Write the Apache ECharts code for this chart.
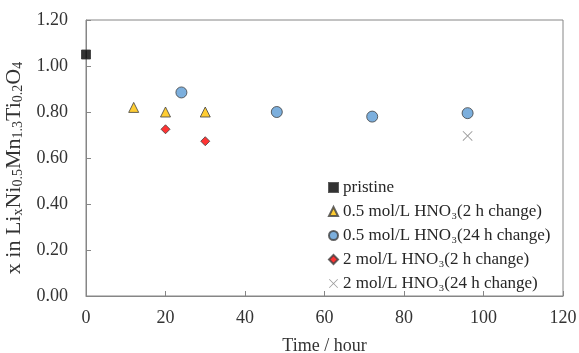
<!DOCTYPE html>
<html><head><meta charset="utf-8">
<script src="https://cdn.jsdelivr.net/npm/echarts@6/dist/echarts.min.js"></script>
<style>html,body{margin:0;padding:0;background:#fff}#c{width:579px;height:353px}</style>
</head><body><div id="c"></div>
<script>
const pristine = [[0, 1.05]];
const h05_2h = [[12, 0.82], [20, 0.80], [30, 0.80]];
const h05_24h = [[24, 0.885], [48, 0.80], [72, 0.78], [96, 0.795]];
const h2_2h = [[20, 0.725], [30, 0.673]];
const h2_24h = [[96, 0.696]];
const names = ['pristine', '0.5 mol/L HNO₃(2 h change)', '0.5 mol/L HNO₃(24 h change)', '2 mol/L HNO₃(2 h change)', '2 mol/L HNO₃(24 h change)'];

const font = 'Liberation Serif';
const txt = '#333333';
const axisCol = '#868686';
const crossPath = 'path://M0,0.6L0.6,0L5,4.4L9.4,0L10,0.6L5.6,5L10,9.4L9.4,10L5,5.6L0.6,10L0,9.4L4.4,5Z';

const chart = echarts.init(document.getElementById('c'));
chart.setOption({
  animation: false,
  grid: { left: 86, right: 16, top: 20, bottom: 57, show: true, borderColor: axisCol, borderWidth: 1,
    containLabel: false, outerBoundsMode: 'none' },
  xAxis: {
    type: 'value', min: 0, max: 120, interval: 20,
    name: 'Time / hour', nameLocation: 'middle', nameGap: 41,
    nameTextStyle: { fontFamily: font, fontSize: 18, color: txt },
    axisLine: { lineStyle: { color: axisCol } },
    axisTick: { inside: true, length: 5, lineStyle: { color: axisCol } },
    axisLabel: { fontFamily: font, fontSize: 18, color: txt, margin: 13 },
    splitLine: { show: false }
  },
  yAxis: {
    type: 'value', min: 0, max: 1.2, interval: 0.2,
    name: 'x in Li{s|x}Ni{s|0.5}Mn{s|1.3}Ti{s|0.2}O{s|4}', nameLocation: 'middle', nameGap: 51, nameRotate: 90,
    nameTextStyle: { fontFamily: font, fontSize: 22, color: txt, padding: [0, 20, 0, 0],
      rich: { s: { fontFamily: font, fontSize: 14, color: txt, verticalAlign: 'bottom', padding: [7, 0, 0, 0] } } },
    axisLine: { lineStyle: { color: axisCol } },
    axisTick: { inside: true, length: 5, lineStyle: { color: axisCol } },
    axisLabel: { fontFamily: font, fontSize: 18, color: txt, margin: 18, formatter: v => v.toFixed(2) },
    splitLine: { show: false }
  },
  legend: {
    orient: 'vertical', left: 323, top: 174, itemGap: 7, itemWidth: 9, itemHeight: 9,
    textStyle: { fontFamily: font, fontSize: 17, color: '#262626' },
    data: names
  },
  series: [
    { name: names[0], type: 'scatter', data: pristine, symbol: 'rect', symbolSize: 9,
      itemStyle: { color: '#000', borderColor: '#333', borderWidth: 1 } },
    { name: names[1], type: 'scatter', data: h05_2h, symbol: 'triangle', symbolSize: 10,
      itemStyle: { color: '#FFC000', borderColor: '#404040', borderWidth: 1 } },
    { name: names[2], type: 'scatter', data: h05_24h, symbol: 'circle', symbolSize: 11,
      itemStyle: { color: '#5B9BD5', borderColor: '#404040', borderWidth: 1 } },
    { name: names[3], type: 'scatter', data: h2_2h, symbol: 'diamond', symbolSize: 9,
      itemStyle: { color: '#FF0000', borderColor: '#404040', borderWidth: 1 } },
    { name: names[4], type: 'scatter', data: h2_24h, symbol: crossPath, symbolSize: 10,
      itemStyle: { color: '#7F7F7F' } }
  ]
});
</script></body></html>
